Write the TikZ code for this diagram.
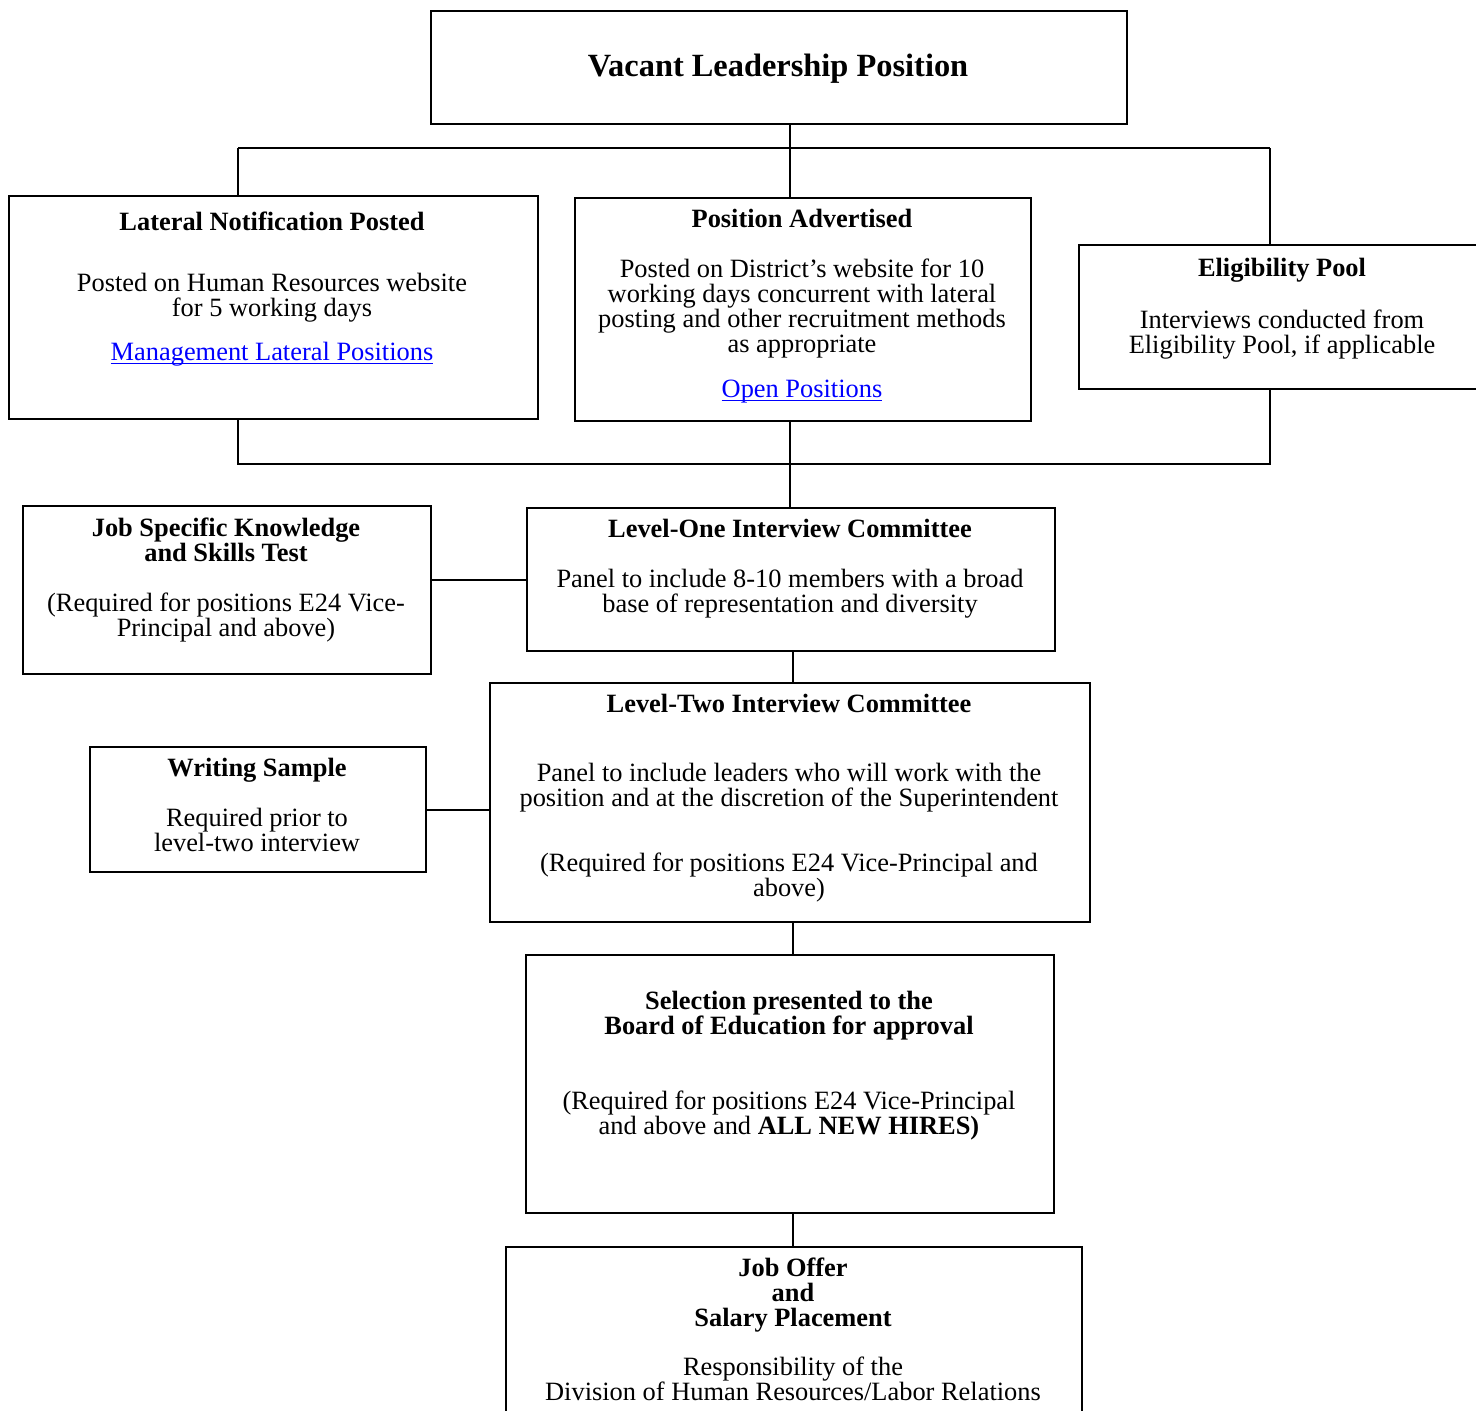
\documentclass[tikz,border=0pt]{standalone}
\usepackage{fontspec}
\setmainfont{Liberation Serif}
\usepackage{tikz}
\usetikzlibrary{positioning}

\newsavebox{\linkbox}
\newcommand{\weblink}[1]{\textcolor{blue}{\sbox{\linkbox}{#1}\rlap{\rule[-2.2pt]{\wd\linkbox}{0.6pt}}\usebox{\linkbox}}}

\begin{document}
\begin{tikzpicture}[x=0.5pt, y=-0.5pt, line width=1pt,
    box/.style={draw, line width=1pt, inner sep=0pt, anchor=north west},
    txt/.style={align=center, inner sep=0pt, anchor=base, font=\fontsize{13.2}{12.5}\selectfont},
    head/.style={txt, font=\fontsize{13.2}{12.5}\selectfont\bfseries}]

\useasboundingbox (0,0) rectangle (1476,1410);
\clip (0,0) rectangle (1476,1410);

% top box
\node[box, minimum width=348pt, minimum height=56.5pt] (vac) at (430,10) {};
\node[head, font=\fontsize{16.2}{18}\selectfont\bfseries] (vacT) at (778,76) {Vacant Leadership Position};

% three postings (multi-line texts sit on their last line)
\node[box, minimum width=264.5pt, minimum height=111.5pt] (lat) at (8,195) {};
\node[head] (latT) at (272,230) {Lateral Notification Posted};
\node[txt] (latB) at (272,316) {Posted on Human Resources website\\for 5 working days};
\node[txt] (latL) at (272,360) {\weblink{Management Lateral Positions}};

\node[box, minimum width=228pt, minimum height=111.5pt] (adv) at (574,197) {};
\node[head] (advT) at (802,227) {Position Advertised};
\node[txt] (advB) at (802,352) {Posted on District’s website for 10\\working days concurrent with lateral\\posting and other recruitment methods\\as appropriate};
\node[txt] (advL) at (802,397) {\weblink{Open Positions}};

\node[box, minimum width=204pt, minimum height=72pt] (elig) at (1078,244) {};
\node[head] (eligT) at (1282,276) {Eligibility Pool};
\node[txt] (eligB) at (1282,353) {Interviews conducted from\\Eligibility Pool, if applicable};

% interview stages
\node[box, minimum width=204pt, minimum height=84pt] (jst) at (22,505) {};
\node[head] (jstT) at (226,561) {Job Specific Knowledge\\and Skills Test};
\node[txt] (jstB) at (226,636) {(Required for positions E24 Vice-\\Principal and above)};

\node[box, minimum width=264pt, minimum height=71.5pt] (one) at (526,507) {};
\node[head] (oneT) at (790,537) {Level-One Interview Committee};
\node[txt] (oneB) at (790,612) {Panel to include 8-10 members with a broad\\base of representation and diversity};

\node[box, minimum width=300pt, minimum height=119.5pt] (two) at (489,682) {};
\node[head] (twoT) at (789,712) {Level-Two Interview Committee};
\node[txt] (twoB) at (789,806) {Panel to include leaders who will work with the\\position and at the discretion of the Superintendent};
\node[txt] (twoR) at (789,896) {(Required for positions E24 Vice-Principal and\\above)};

\node[box, minimum width=168pt, minimum height=62.5pt] (wri) at (89,746) {};
\node[head] (wriT) at (257,776) {Writing Sample};
\node[txt] (wriB) at (257,851) {Required prior to\\level-two interview};

% board and offer
\node[box, minimum width=264pt, minimum height=129pt] (sel) at (525,954) {};
\node[head] (selT) at (789,1034) {Selection presented to the\\Board of Education for approval};
\node[txt] (selB) at (789,1134) {(Required for positions E24 Vice-Principal\\and above and \textbf{ALL NEW HIRES)}};

\node[box, minimum width=288pt, minimum height=100pt] (off) at (505,1246) {};
\node[head] (offT) at (793,1326) {Job Offer\\and\\Salary Placement};
\node[txt] (offB) at (793,1400) {Responsibility of the\\Division of Human Resources/Labor Relations};

% connectors
\coordinate (topL) at (238,148);
\coordinate (topM) at (790,148);
\coordinate (topR) at (1270,148);
\coordinate (botL) at (238,464);
\coordinate (botR) at (1270,464);
\coordinate (spine) at (793,0);

\draw (topM |- vac.south) -- (topM);
\draw (topL) -- (topR);
\draw (topL) -- (topL |- lat.north);
\draw (topM) -- (topM |- adv.north);
\draw (topR) -- (topR |- elig.north);

\draw (topL |- lat.south) -- (botL) -- (botR) -- (topR |- elig.south);
\draw (topM |- adv.south) -- (topM |- one.north);

\draw (one.west) -- (one.west -| jst.east);
\draw (spine |- one.south) -- (spine |- two.north);
\draw (wri.east) -- (wri.east -| two.west);
\draw (spine |- two.south) -- (spine |- sel.north);
\draw (spine |- sel.south) -- (spine |- off.north);

\end{tikzpicture}
\end{document}
